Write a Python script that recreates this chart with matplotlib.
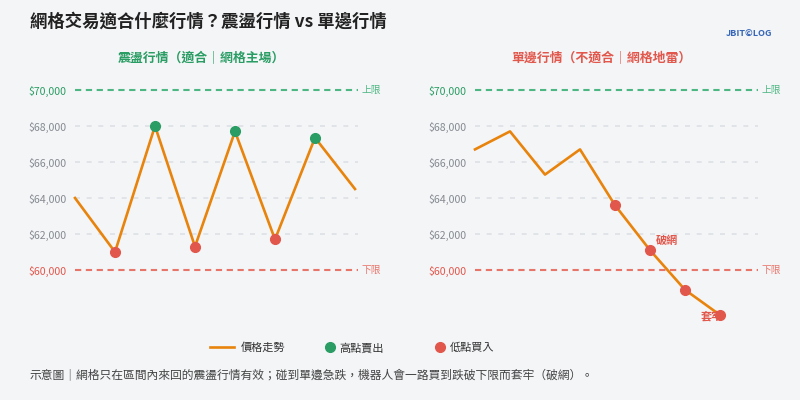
import matplotlib
matplotlib.use("Agg")
import matplotlib.pyplot as plt
import matplotlib.transforms as mtransforms

plt.rcParams['font.family'] = ['Noto Sans CJK TC', 'DejaVu Sans']

# ---- data ----
range_prices = [64000, 61000, 68000, 61300, 67700, 61700, 67350, 64500]
range_highs = [2, 4, 6]       # sell points (indices)
range_lows = [1, 3, 5]        # buy points (indices)

trend_prices = [66700, 67700, 65300, 66700, 63600, 61100, 58900, 57500]
trend_lows = [4, 5, 6, 7]

upper_limit = 70000
lower_limit = 60000
grid_levels = [62000, 64000, 66000, 68000]
ytick_values = [60000, 62000, 64000, 66000, 68000, 70000]

panel_titles = ["震盪行情（適合｜網格主場）", "單邊行情（不適合｜網格地雷）"]
legend_labels = ["價格走勢", "高點賣出", "低點買入"]
title = "網格交易適合什麼行情？震盪行情 vs 單邊行情"
footer = "示意圖｜網格只在區間內來回的震盪行情有效；碰到單邊急跌，機器人會一路買到跌破下限而套牢（破網）。"

# ---- colours ----
bg = "#f4f5f7"
orange = "#e8830c"
green = "#2a9d64"
red = "#e2574c"
green_dash = "#4cb782"
red_dash = "#e8756a"
grid_c = "#dde0e5"
tick_c = "#858a91"

W, H = 800, 400
fig = plt.figure(figsize=(8, 4), dpi=100, facecolor=bg)

def px_axes(x0, x1, y0, y1):
    # pixel box (top-left origin) -> figure fraction
    return fig.add_axes([x0 / W, 1 - y1 / H, (x1 - x0) / W, (y1 - y0) / H])

ymin, ymax = 56800, 71000
ax1 = px_axes(75, 358, 72, 327.6)
ax2 = px_axes(475, 758, 72, 327.6)
ax1.set_xlim(0, 7 * 283 / 280)
ax2.set_xlim(0, 7 * 283 / 245)


def style_panel(ax, sub, sub_color, sub_x):
    ax.set_facecolor(bg)
    ax.set_ylim(ymin, ymax)
    for s in ax.spines.values():
        s.set_visible(False)
    ax.set_xticks([])
    ax.set_yticks(ytick_values)
    ax.set_yticklabels([f"${v:,.0f}" for v in ytick_values])
    ax.tick_params(axis='y', length=0, pad=6, labelsize=7.6, labelcolor=tick_c)
    labels = ax.get_yticklabels()
    labels[0].set_color(red)
    labels[-1].set_color(green)
    for g in grid_levels:
        ax.axhline(g, color=grid_c, lw=1.2, ls=(0, (3, 4)), zorder=1)
    ax.axhline(upper_limit, color=green_dash, lw=1.5, ls=(0, (3, 2.2)), zorder=1)
    ax.axhline(lower_limit, color=red_dash, lw=1.5, ls=(0, (3, 2.2)), zorder=1)
    tr = mtransforms.blended_transform_factory(ax.transAxes, ax.transData)
    ax.text(1.012, upper_limit, "上限", transform=tr, color=green_dash,
            fontsize=7, va='center', ha='left')
    ax.text(1.012, lower_limit, "下限", transform=tr, color=red_dash,
            fontsize=7, va='center', ha='left')
    fig.text(sub_x / W, 1 - 58 / H, sub, color=sub_color, fontsize=9.3,
             fontweight='bold', ha='center', va='center')


style_panel(ax1, panel_titles[0], green, 201)
style_panel(ax2, panel_titles[1], red, 601)

# left: range market
x1 = list(range(len(range_prices)))
line, = ax1.plot(x1, range_prices, color=orange, lw=1.9, zorder=3, label=legend_labels[0])
hi, = ax1.plot([x1[i] for i in range_highs], [range_prices[i] for i in range_highs],
               'o', color=green, ms=7, zorder=4, label=legend_labels[1])
lo, = ax1.plot([x1[i] for i in range_lows], [range_prices[i] for i in range_lows],
               'o', color=red, ms=7, zorder=4, label=legend_labels[2])

# right: trending market
x2 = list(range(len(trend_prices)))
ax2.plot(x2, trend_prices, color=orange, lw=1.9, zorder=3)
ax2.plot([x2[i] for i in trend_lows], [trend_prices[i] for i in trend_lows],
         'o', color=red, ms=7, zorder=4)
ax2.annotate("破網", (x2[5], trend_prices[5]), xytext=(4, 7), textcoords='offset points',
             color=red, fontsize=8, fontweight='bold', ha='left', va='center', zorder=5)
ax2.annotate("套牢", (x2[7], trend_prices[7]), xytext=(2, -1), textcoords='offset points',
             color=red, fontsize=8, fontweight='bold', ha='right', va='center', zorder=5)
for a in (ax1, ax2):
    for art in a.lines:
        art.set_clip_on(False)

# title, logo
fig.text(30 / W, 1 - 22 / H, title, fontsize=12.5, fontweight='bold', color='#222222',
         ha='left', va='center')
fig.text(772 / W, 1 - 34 / H, "JBIT©LOG", fontsize=6.5, fontweight='bold', style='italic',
         color='#3566b8', ha='right', va='center')

# legend: one entry per box so each sits where the reference has it
legend_spots = [(210, 2.2, 0.55), (324, 1.0, 0.4), (434, 1.0, 0.4)]
for handle, label, (x0, hl, pad) in zip([line, hi, lo], legend_labels, legend_spots):
    fig.legend([handle], [label], loc='center left',
               bbox_to_anchor=(x0 / W, 1 - 348 / H), frameon=False, fontsize=8,
               handlelength=hl, handletextpad=pad, borderpad=0, borderaxespad=0,
               labelcolor='#333333')

fig.text(30 / W, 1 - 376 / H, footer, fontsize=8.5, color='#444444', ha='left', va='center')

fig.savefig("out.png", dpi=100, facecolor=bg)
